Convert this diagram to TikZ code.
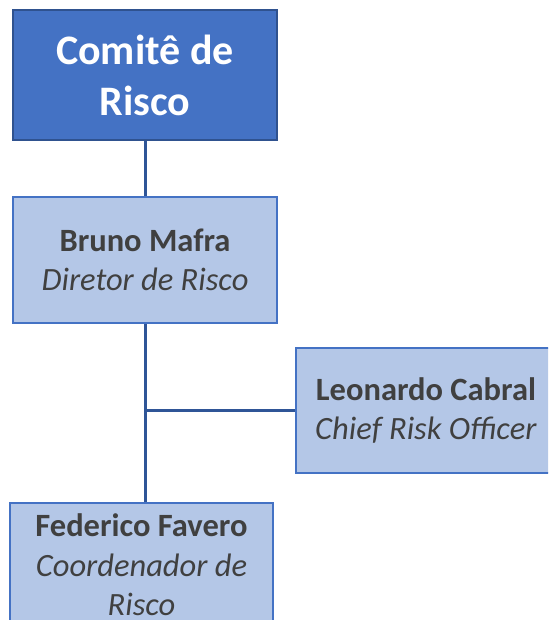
\documentclass[tikz,border=0pt]{standalone}
\usepackage{fontspec}
\setmainfont{Carlito}
\definecolor{topfill}{HTML}{4472C4}
\definecolor{topdraw}{HTML}{2F528F}
\definecolor{subfill}{HTML}{B4C7E7}
\definecolor{subdraw}{HTML}{4472C4}
\definecolor{linkc}{HTML}{2F5597}
\definecolor{txt}{HTML}{404040}
\begin{document}
\begin{tikzpicture}[x=1pt,y=-1pt,
  topbox/.style={draw=topdraw,fill=topfill,line width=2pt,inner sep=0pt,
    minimum width=264pt,minimum height=130pt,align=center,text=white,
    font=\fontsize{42}{51}\selectfont\bfseries},
  subbox/.style={draw=subdraw,fill=subfill,line width=2pt,inner sep=0pt,
    align=center,text=txt,font=\fontsize{32.5}{39.5}\selectfont},
  link/.style={draw=linkc,line width=3pt}]
\useasboundingbox (0,0) rectangle (548,620);
\clip (0,0) rectangle (548,620);
\node[topbox] (top) at (145,75) {Comitê de\\Risco};
\node[subbox,minimum width=264pt,minimum height=126pt] (bm) at (145,260)
  {\textbf{Bruno Mafra}\\\textit{Diretor de Risco}};
\node[subbox,minimum width=260pt,minimum height=125pt] (lc) at (426,410.5)
  {\textbf{Leonardo Cabral}\\\textit{Chief Risk Officer}};
\node[subbox,minimum width=263pt,minimum height=124pt,anchor=north] (ff) at (141.5,502)
  {\textbf{Federico Favero}\\\textit{Coordenador de}\\\textit{Risco}};
\coordinate (j) at (145,410.5);
\coordinate (ffin) at (145,502);
\draw[link] (top.south) -- (bm.north);
\draw[link] (bm.south) -- (ffin);
\draw[link] (j) -- (lc.west);
\end{tikzpicture}
\end{document}
